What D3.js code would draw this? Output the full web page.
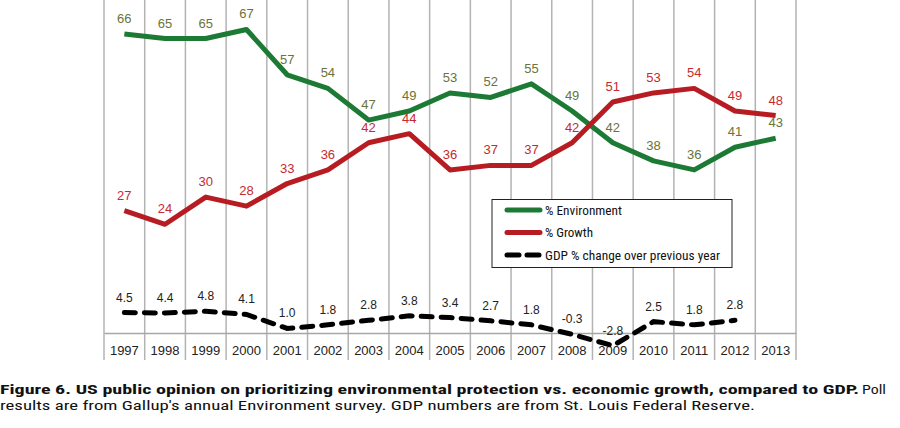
<!DOCTYPE html>
<html><head><meta charset="utf-8">
<script src="https://cdn.jsdelivr.net/npm/d3@7/dist/d3.min.js"></script>
<style>
html,body{margin:0;padding:0;background:#fff;}
svg{display:block;}
text{font-family:"Liberation Sans",Arial,sans-serif;}
.narrow{font-family:"Liberation Sans Narrow","Arial Narrow","Roboto Condensed","Liberation Sans",sans-serif;}
</style>
</head><body>
<svg id="chart" width="900" height="428"></svg>
<script>
const years = ["1997","1998","1999","2000","2001","2002","2003","2004","2005","2006","2007","2008","2009","2010","2011","2012","2013"];
const environment = [66,65,65,67,57,54,47,49,53,52,55,49,42,38,36,41,43];
const growth = [27,24,30,28,33,36,42,44,36,37,37,42,51,53,54,49,48];
const gdp = [4.5,4.4,4.8,4.1,1.0,1.8,2.8,3.8,3.4,2.7,1.8,-0.3,-2.8,2.5,1.8,2.8,null];
const legendLabels = ["% Environment","% Growth","GDP % change over previous year"];
const captionBold = "Figure 6. US public opinion on prioritizing environmental protection vs. economic growth, compared to GDP.";
const captionRest1 = "Poll";
const captionLine2 = "results are from Gallup's annual Environment survey. GDP numbers are from St. Louis Federal Reserve.";

const GREEN = "#1d7a35", RED = "#b71c22", GREEN_TXT = "#6b7339", RED_TXT = "#c62a2f";
const svg = d3.select("#chart");

const x = d3.scaleBand().domain(years).range([104, 796]).paddingInner(0).paddingOuter(0);
const y = d3.scaleLinear().domain([0, 70]).range([333, 333 - 70*4.53]);
const cx = d => x(d) + x.bandwidth()/2;

// vertical gridlines at category boundaries
const bounds = years.map(d => x(d)).concat([x.range()[1]]);
svg.append("g").selectAll("line").data(bounds).join("line")
  .attr("x1", d => d).attr("x2", d => d).attr("y1", 0).attr("y2", 360)
  .attr("stroke", "#b3b3b3").attr("stroke-width", 1.5);

// x axis line and labels
const xAxis = d3.axisBottom(x).tickSize(0).tickPadding(0);
const gx = svg.append("g").attr("transform", "translate(0,333)").call(xAxis);
gx.select(".domain").attr("stroke", "#a6a6a6").attr("stroke-width", 1.5);
gx.selectAll("text").attr("font-size", 13).attr("fill", "#222")
  .attr("font-family", '"Liberation Sans",Arial,sans-serif').attr("dy", null).attr("y", 22);

// lines
const line = d3.line().x((d,i) => cx(years[i])).y(d => y(d)).defined(d => d !== null);
svg.append("path").datum(gdp).attr("d", line).attr("fill","none")
  .attr("stroke","#000").attr("stroke-width",5).attr("stroke-linecap","round")
  .attr("stroke-dasharray","11,9");
svg.append("path").datum(environment).attr("d", line).attr("fill","none")
  .attr("stroke",GREEN).attr("stroke-width",5).attr("stroke-linejoin","round");
svg.append("path").datum(growth).attr("d", line).attr("fill","none")
  .attr("stroke",RED).attr("stroke-width",5).attr("stroke-linejoin","round");

// value labels
function labels(data, color, size, fmt) {
  svg.append("g").selectAll("text").data(data.map((v,i)=>({v,i})).filter(d=>d.v!==null)).join("text")
    .attr("x", d => cx(years[d.i])).attr("y", d => y(d.v) - 11)
    .attr("text-anchor","middle").attr("font-size", size).attr("fill", color)
    .text(d => fmt(d.v));
}
labels(environment, GREEN_TXT, 13, d => d);
labels(growth, RED_TXT, 13, d => d);
labels(gdp, "#222", 12, d => d.toFixed(1));

// legend
const lg = svg.append("g");
lg.append("rect").attr("x",492).attr("y",199.5).attr("width",240).attr("height",68)
  .attr("fill","#fff").attr("stroke","#222").attr("stroke-width",1);
const legColors = [GREEN, RED, "#000"];
const legWidths = [77, 48, 175];
legendLabels.forEach((t,i) => {
  const ly = 210 + i*22.5;
  lg.append("line").attr("x1",507).attr("x2",540).attr("y1",ly).attr("y2",ly)
    .attr("stroke",legColors[i]).attr("stroke-width",5).attr("stroke-linecap","round")
    .attr("stroke-dasharray", i===2 ? "12,8" : null);
  lg.append("text").attr("class","narrow").attr("x",545).attr("y",ly+4.5)
    .attr("font-size",13).attr("fill","#111")
    .attr("textLength", legWidths[i]).attr("lengthAdjust","spacingAndGlyphs").text(t);
});

// caption
svg.append("text").attr("class","narrow").attr("x",0).attr("y",394)
  .attr("font-size",13).attr("font-weight","bold").attr("fill","#111")
  .attr("textLength",859).attr("lengthAdjust","spacingAndGlyphs").text(captionBold);
svg.append("text").attr("class","narrow").attr("x",862).attr("y",394)
  .attr("font-size",13).attr("fill","#111")
  .attr("textLength",24).attr("lengthAdjust","spacingAndGlyphs").text(captionRest1);
svg.append("text").attr("class","narrow").attr("x",0).attr("y",410)
  .attr("font-size",13).attr("fill","#111")
  .attr("textLength",755).attr("lengthAdjust","spacingAndGlyphs").text(captionLine2);
</script>
</body></html>
